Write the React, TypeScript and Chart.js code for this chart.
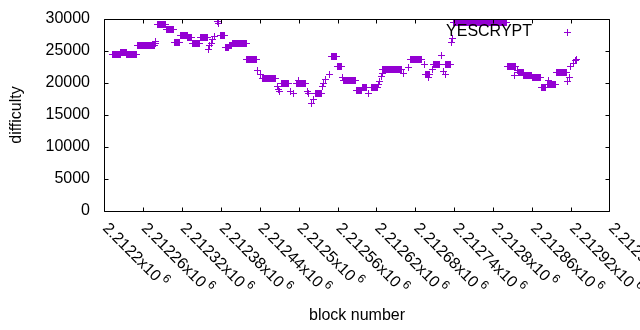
import React, { useEffect, useRef } from "react";
import { Chart, registerables } from "chart.js";

Chart.register(...registerables);

const SERIES_LABEL = "YESCRYPT";
const X_TITLE = "block number";
const Y_TITLE = "difficulty";
const SERIES_COLOR = "#9400d3";
const FONT = '"Liberation Sans", Arial, sans-serif';

const X_MIN = 2212200;
const X_MAX = 2212980;
const Y_MIN = 0;
const Y_MAX = 30000;
const xTickValues = [
  2212200, 2212260, 2212320, 2212380, 2212440, 2212500, 2212560,
  2212620, 2212680, 2212740, 2212800, 2212860, 2212920, 2212980,
];
const xTickMantissas = [
  "2.2122", "2.21226", "2.21232", "2.21238", "2.21244", "2.2125", "2.21256",
  "2.21262", "2.21268", "2.21274", "2.2128", "2.21286", "2.21292", "2.21298",
];
const xTickExponent = "6";
const yTickValues = [0, 5000, 10000, 15000, 20000, 25000, 30000];
const yTickLabels = ["0", "5000", "10000", "15000", "20000", "25000", "30000"];

// runs of consecutive blocks holding (about) the same difficulty
const runStartBlock = [
  2212213, 2212226, 2212235, 2212251, 2212282, 2212296, 2212308, 2212318,
  2212329, 2212336, 2212348, 2212379, 2212387, 2212393, 2212398, 2212420,
  2212445, 2212473, 2212496, 2212526, 2212550, 2212560, 2212569, 2212589,
  2212598, 2212612, 2212630, 2212672, 2212695, 2212708, 2212726, 2212739,
  2212822, 2212839, 2212847, 2212860, 2212874, 2212883, 2212897,
];
const runEndBlock = [
  2212225, 2212234, 2212250, 2212278, 2212295, 2212307, 2212317, 2212328,
  2212335, 2212347, 2212360, 2212386, 2212392, 2212397, 2212419, 2212435,
  2212465, 2212484, 2212511, 2212536, 2212559, 2212566, 2212588, 2212597,
  2212605, 2212622, 2212658, 2212690, 2212702, 2212717, 2212734, 2212821,
  2212834, 2212846, 2212859, 2212873, 2212881, 2212896, 2212913,
];
const runDifficulty = [
  24500, 24700, 24500, 25900, 29200, 28400, 26400, 27450,
  27150, 26200, 27050, 27450, 25600, 25900, 26200, 23700,
  20750, 19850, 19950, 18300, 24150, 22650, 20400, 18850,
  19350, 19250, 22050, 23700, 21400, 22850, 22950, 29500,
  22650, 21700, 21150, 20800, 19300, 19700, 21650,
];

// isolated blocks
const spotBlock = [
  2212279, 2212280, 2212361, 2212363, 2212365, 2212368, 2212371, 2212375,
  2212376, 2212437, 2212441, 2212467, 2212469, 2212470, 2212487, 2212492,
  2212500, 2212513, 2212515, 2212520, 2212523, 2212537, 2212539, 2212541,
  2212547, 2212568, 2212608, 2212623, 2212625, 2212627, 2212629, 2212662,
  2212670, 2212694, 2212700, 2212706, 2212720, 2212723, 2212727, 2212735,
  2212737, 2212833, 2212837, 2212885, 2212914, 2212918, 2212919, 2212923,
  2212927, 2212929,
];
const spotDifficulty = [
  26100, 26450, 25300, 25800, 26200, 26800, 27300, 29600,
  29300, 21900, 21400, 19500, 19000, 18650, 18750, 18400,
  20400, 18600, 18400, 16850, 17350, 19500, 20000, 20500,
  21350, 20900, 18400, 19750, 20300, 20950, 21500, 21450,
  22400, 22900, 20900, 22050, 24350, 21800, 21400, 26400,
  27000, 21250, 22000, 20450, 20200, 20850, 22550, 23100,
  23450, 23600,
];

function buildPoints() {
  const pts: { x: number; y: number }[] = [];
  runStartBlock.forEach((s, i) => {
    for (let b = s; b <= runEndBlock[i]; b++) pts.push({ x: b, y: runDifficulty[i] });
  });
  spotBlock.forEach((b, i) => pts.push({ x: b, y: spotDifficulty[i] }));
  return pts.sort((a, b) => a.x - b.x);
}

// snap marker centres to pixel centres so the "+" marks are crisp like gnuplot's
const snapPoints = {
  id: "snapPoints",
  beforeDatasetsDraw(chart: any) {
    chart.data.datasets.forEach((_d: any, i: number) => {
      const meta = chart.getDatasetMeta(i);
      meta.data.forEach((el: any) => {
        el.x = Math.round(el.x - 0.5) + 0.5;
        el.y = Math.round(el.y - 0.5) + 0.5;
      });
    });
  },
};

const overlay = {
  id: "gnuplotOverlay",
  afterDraw(chart: any) {
    const { ctx, chartArea: a } = chart;
    const xs = chart.scales.x;
    const ys = chart.scales.y;
    ctx.save();
    ctx.strokeStyle = "#000";
    ctx.lineWidth = 1;
    const L = a.left + 0.5;
    const R = a.right - 0.5;
    const T = a.top + 0.5;
    const B = a.bottom + 0.5;
    ctx.beginPath();
    ctx.rect(L, T, R - L, B - T);
    const TL = 4;
    xTickValues.forEach((v) => {
      const px = Math.min(Math.round(xs.getPixelForValue(v)), a.right - 1) + 0.5;
      ctx.moveTo(px, B);
      ctx.lineTo(px, B - TL);
      ctx.moveTo(px, T);
      ctx.lineTo(px, T + TL);
    });
    yTickValues.forEach((v) => {
      const py = Math.round(ys.getPixelForValue(v)) + 0.5;
      ctx.moveTo(L, py);
      ctx.lineTo(L + TL, py);
      ctx.moveTo(R, py);
      ctx.lineTo(R - TL, py);
    });
    ctx.stroke();

    ctx.fillStyle = "#000";
    // y tick labels
    ctx.font = `16px ${FONT}`;
    ctx.textAlign = "right";
    ctx.textBaseline = "middle";
    yTickValues.forEach((v, i) => {
      ctx.fillText(yTickLabels[i], a.left - 14, ys.getPixelForValue(v));
    });

    // rotated x tick labels
    xTickValues.forEach((v, i) => {
      const px = xs.getPixelForValue(v);
      ctx.save();
      ctx.translate(px + 1, a.bottom + 15);
      ctx.rotate(Math.PI / 4);
      ctx.font = `16px ${FONT}`;
      ctx.textAlign = "left";
      ctx.textBaseline = "middle";
      const main = xTickMantissas[i] + "x10";
      ctx.fillText(main, 0, 0);
      const w = ctx.measureText(main).width;
      ctx.font = `12px ${FONT}`;
      ctx.fillText(xTickExponent, w + 3, -6);
      ctx.restore();
    });

    // axis titles
    ctx.font = `16px ${FONT}`;
    ctx.textAlign = "center";
    ctx.textBaseline = "middle";
    ctx.fillText(X_TITLE, (a.left + a.right) / 2, 316);
    ctx.save();
    ctx.translate(17, (a.top + a.bottom) / 2);
    ctx.rotate(-Math.PI / 2);
    ctx.fillText(Y_TITLE, 0, 0);
    ctx.restore();

    // legend (text then sample mark, gnuplot style)
    ctx.textAlign = "right";
    ctx.fillText(chart.data.datasets[0].label, 532, 32);
    ctx.strokeStyle = SERIES_COLOR;
    ctx.beginPath();
    ctx.moveTo(564, 32.5);
    ctx.lineTo(571, 32.5);
    ctx.moveTo(567.5, 29);
    ctx.lineTo(567.5, 36);
    ctx.stroke();
    ctx.restore();
  },
};

export default function App() {
  const ref = useRef<HTMLCanvasElement | null>(null);
  useEffect(() => {
    if (!ref.current) return;
    const chart = new Chart(ref.current, {
      type: "scatter",
      data: {
        datasets: [
          {
            label: SERIES_LABEL,
            data: buildPoints(),
            pointStyle: "cross",
            pointRadius: 3.5,
            pointHoverRadius: 3.5,
            borderColor: SERIES_COLOR,
            backgroundColor: SERIES_COLOR,
            borderWidth: 1,
            showLine: false,
          },
        ],
      },
      options: {
        animation: false,
        responsive: false,
        devicePixelRatio: 1,
        events: [],
        layout: { padding: { top: 19, right: 30, left: 104, bottom: 119 } },
        plugins: { legend: { display: false }, tooltip: { enabled: false } },
        scales: {
          x: { type: "linear", display: false, min: X_MIN, max: X_MAX },
          y: { type: "linear", display: false, min: Y_MIN, max: Y_MAX },
        },
      },
      plugins: [snapPoints, overlay],
    });
    return () => chart.destroy();
  }, []);
  return (
    <div style={{ position: "fixed", left: 0, top: 0, width: 640, height: 330, background: "#fff" }}>
      <canvas ref={ref} width={640} height={330} />
    </div>
  );
}
